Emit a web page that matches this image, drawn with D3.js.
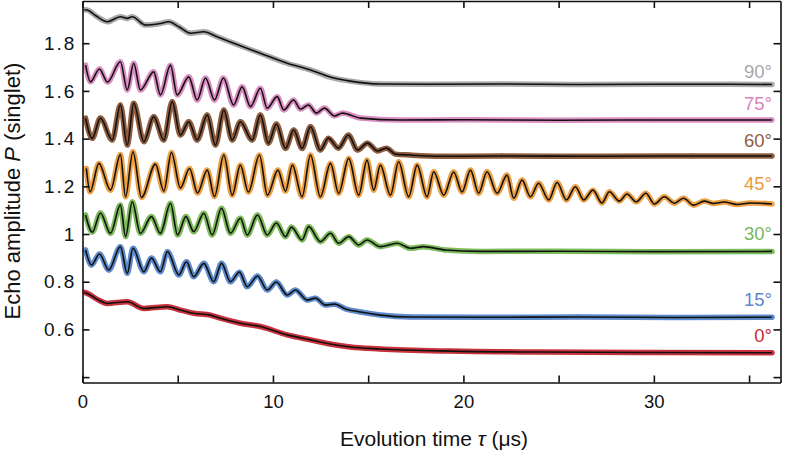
<!DOCTYPE html>
<html><head><meta charset="utf-8">
<script src="https://cdn.jsdelivr.net/npm/d3@7"></script>
<style>
body{margin:0;background:#fff}
text{font-family:"Liberation Sans",Arial,Helvetica,sans-serif}
</style>
</head><body>
<svg id="chart" width="788" height="452"></svg>
<script>
// ---------- data (time in µs, echo amplitude) ----------
const angleLabels = ["90°","75°","60°","45°","30°","15°","0°"];

const s90 = [[0.1,1.94],[0.25,1.939],[0.7,1.915],[1.3,1.89],[1.99,1.911],[2.35,1.904],[2.61,1.911],[3.31,1.876],[4.09,1.883],[4.53,1.89],[5.06,1.869],[5.67,1.842],[6.37,1.848],[7.07,1.827],[7.94,1.8],[9.34,1.758],[10.75,1.716],[11.97,1.688],[13.0,1.658],[14.07,1.641],[15.6,1.629],[18,1.628],[22,1.629],[26,1.627],[30,1.628],[34,1.628],[36.2,1.627]];

const s75 = [[0.16,1.708],[0.42,1.638],[0.89,1.692],[1.31,1.637],[1.99,1.722],[2.35,1.604],[2.69,1.716],[3.04,1.604],[3.74,1.68],[4.09,1.583],[4.62,1.708],[4.97,1.583],[5.58,1.659],[6.02,1.562],[6.46,1.654],[6.93,1.562],[7.4,1.654],[7.93,1.541],[8.38,1.617],[8.82,1.534],[9.34,1.611],[9.7,1.527],[10.22,1.576],[10.57,1.52],[11.08,1.562],[11.44,1.524],[11.86,1.541],[12.28,1.507],[12.7,1.528],[13.23,1.495],[13.65,1.507],[14.6,1.486],[16.7,1.478],[20,1.479],[25,1.477],[30,1.478],[36.2,1.478]];

const s60 = [[0.16,1.486],[0.51,1.401],[0.94,1.486],[1.56,1.394],[1.99,1.541],[2.35,1.373],[2.69,1.548],[3.22,1.387],[3.74,1.492],[4.27,1.394],[4.71,1.555],[5.14,1.415],[5.58,1.471],[6.02,1.394],[6.55,1.499],[6.98,1.373],[7.42,1.52],[7.86,1.394],[8.29,1.471],[8.91,1.394],[9.34,1.499],[9.76,1.381],[10.18,1.461],[10.66,1.359],[11.09,1.436],[11.53,1.359],[11.97,1.45],[12.49,1.352],[12.91,1.402],[13.44,1.36],[13.96,1.415],[14.44,1.352],[14.96,1.381],[15.49,1.348],[15.96,1.36],[16.43,1.335],[17.2,1.331],[18.8,1.326],[22,1.327],[27,1.326],[32,1.327],[36.2,1.327]];

const s45 = [[0.2,1.275],[0.4,1.177],[0.86,1.296],[1.47,1.184],[1.99,1.333],[2.26,1.156],[2.65,1.345],[3.1,1.153],[3.83,1.293],[4.27,1.18],[4.67,1.342],[5.14,1.193],[5.62,1.275],[6.04,1.172],[6.55,1.268],[6.93,1.157],[7.42,1.331],[7.86,1.163],[8.29,1.289],[8.71,1.176],[9.29,1.331],[9.71,1.163],[10.26,1.268],[10.66,1.18],[11.02,1.289],[11.53,1.156],[11.97,1.331],[12.49,1.156],[13.02,1.296],[13.45,1.171],[13.98,1.317],[14.5,1.163],[14.94,1.31],[15.29,1.184],[15.64,1.289],[16.17,1.163],[16.6,1.303],[17.13,1.156],[17.57,1.289],[18.09,1.156],[18.44,1.261],[18.97,1.163],[19.49,1.26],[19.93,1.176],[20.37,1.268],[20.8,1.171],[21.24,1.261],[21.77,1.171],[22.29,1.247],[22.64,1.15],[23.08,1.226],[23.52,1.156],[23.95,1.213],[24.48,1.143],[24.92,1.216],[25.41,1.143],[25.88,1.198],[26.32,1.143],[26.8,1.184],[27.28,1.13],[27.66,1.177],[28.19,1.138],[28.59,1.168],[29.08,1.135],[29.58,1.171],[30.03,1.126],[30.55,1.156],[31.08,1.129],[31.56,1.15],[32.09,1.121],[32.65,1.138],[33.12,1.128],[33.7,1.134],[34.37,1.124],[35.07,1.13],[36.2,1.126]];

const s30 = [[0.16,1.08],[0.52,1.008],[0.94,1.088],[1.47,1.003],[1.99,1.122],[2.26,0.989],[2.61,1.135],[3.04,1.003],[3.62,1.073],[4.09,1.003],[4.62,1.129],[4.99,0.996],[5.43,1.073],[5.84,1.01],[6.37,1.087],[6.81,0.996],[7.3,1.108],[7.77,1.003],[8.29,1.066],[8.65,0.996],[9.19,1.08],[9.7,0.996],[10.18,1.046],[10.66,0.989],[10.97,1.029],[11.53,0.975],[11.88,1.031],[12.49,0.968],[13.02,1.003],[13.45,0.961],[13.98,0.989],[14.5,0.954],[14.94,0.975],[15.64,0.947],[16.52,0.961],[17.22,0.94],[17.9,0.947],[19.05,0.933],[20.9,0.927],[25,0.928],[30,0.926],[36.2,0.927]];

const s15 = [[0.16,0.933],[0.47,0.87],[0.89,0.916],[1.38,0.849],[1.99,0.947],[2.35,0.835],[2.65,0.94],[3.22,0.842],[3.62,0.899],[4.09,0.842],[4.46,0.926],[5.06,0.828],[5.46,0.884],[5.84,0.821],[6.37,0.877],[6.89,0.8],[7.3,0.877],[7.77,0.8],[8.24,0.84],[8.65,0.779],[9.19,0.824],[9.7,0.765],[10.18,0.799],[10.75,0.744],[11.18,0.765],[11.8,0.723],[12.23,0.731],[12.76,0.702],[13.23,0.706],[13.81,0.686],[14.6,0.673],[15.64,0.66],[17.22,0.652],[21,0.651],[26,0.652],[31,0.65],[36.2,0.651]];

const s0 = [[0.1,0.755],[0.25,0.751],[0.8,0.725],[1.3,0.709],[2.35,0.716],[3.22,0.688],[4.45,0.695],[5.14,0.681],[5.84,0.668],[6.72,0.66],[7.24,0.647],[8.29,0.626],[9.34,0.612],[10.75,0.577],[11.97,0.556],[13.0,0.539],[14.07,0.526],[15.6,0.518],[19.3,0.509],[24,0.505],[30,0.503],[36.2,0.502]];

const seriesList = [s90, s75, s60, s45, s30, s15, s0];

const xTickValues = [0,5,10,15,20,25,30,35];
const xTickLabels = ["0","","10","","20","","30",""];
const yTickValues = [0.4,0.6,0.8,1.0,1.2,1.4,1.6,1.8];
const yTickLabels = ["","0.6","0.8","1","1.2","1.4","1.6","1.8"];

// ---------- styles ----------
const bandColors  = ["#a9a9a9","#db8ec2","#8e5c3e","#eda044","#7dbb5c","#5d8bcc","#c8323c"];
const labelColors = ["#a8a8a8","#d784b9","#8f5d3e","#ea9a3e","#79b55b","#5b88c6","#c42b34"];
const labelOffsets = [6.3, 10, 9.5, 14, 11.3, 11.3, 11.2];

const svg = d3.select("#chart");
const W = 788, H = 452;
const L = 82.5, R = 780.5, T = 1, B = 382.5;

const x = d3.scaleLinear().domain([0, 36.65]).range([L, R]);
const y = d3.scaleLinear().domain([0.3774, 1.977]).range([B, T]);

svg.append("rect").attr("width", W).attr("height", H).attr("fill", "#fff");

svg.append("defs").append("clipPath").attr("id","clip")
  .append("rect").attr("x", L).attr("y", T).attr("width", R-L).attr("height", B-T);

const line = d3.line().x(d => x(d[0])).y(d => y(d[1])).curve(d3.curveMonotoneX);

const plot = svg.append("g").attr("clip-path","url(#clip)");
seriesList.forEach((s, i) => {
  plot.append("path").attr("d", line(s)).attr("fill","none")
    .attr("stroke", bandColors[i]).attr("stroke-width", 5.5)
    .attr("stroke-linecap","round").attr("stroke-linejoin","round");
  plot.selectAll(null).data(s).enter().append("circle")
    .attr("cx", d => x(d[0])).attr("cy", d => y(d[1])).attr("r", 2.4)
    .attr("fill", bandColors[i]);
});
seriesList.forEach((s, i) => {
  plot.append("path").attr("d", line(s)).attr("fill","none")
    .attr("stroke", "#111").attr("stroke-width", 1.6);
});

// axes
const axW = 1.6;
const gx = svg.append("g").attr("transform", `translate(0,${B})`)
  .call(d3.axisBottom(x).tickValues(xTickValues).tickSizeInner(-7).tickSizeOuter(0).tickPadding(12.5)
    .tickFormat((d,i) => xTickLabels[i]));
const gxt = svg.append("g").attr("transform", `translate(0,${T})`)
  .call(d3.axisTop(x).tickValues(xTickValues).tickSizeInner(-7).tickSizeOuter(0).tickFormat(""));
const gy = svg.append("g").attr("transform", `translate(${L},0)`)
  .call(d3.axisLeft(y).tickValues(yTickValues).tickSizeInner(-7).tickSizeOuter(0).tickPadding(8)
    .tickFormat((d,i) => yTickLabels[i]));
const gyr = svg.append("g").attr("transform", `translate(${R},0)`)
  .call(d3.axisRight(y).tickValues(yTickValues).tickSizeInner(-7).tickSizeOuter(0).tickFormat(""));

[gx,gxt,gy,gyr].forEach(g => {
  g.select(".domain").attr("stroke","#111").attr("stroke-width", axW);
  g.selectAll(".tick line").attr("stroke","#111").attr("stroke-width", axW);
  g.selectAll("text").attr("fill","#111").attr("font-family",'"Liberation Sans",Arial,sans-serif');
});
gx.selectAll("text").attr("font-size", 18.5);
gy.selectAll("text").attr("font-size", 19).attr("letter-spacing", "2px").attr("dx", "0.1em");

// axis titles
svg.append("text").attr("x", 434).attr("y", 446).attr("text-anchor","middle")
  .attr("font-size", 21).attr("fill","#111")
  .html('Evolution time <tspan font-style="italic">τ</tspan> (μs)');
svg.append("text").attr("transform", "translate(20,191) rotate(-90)").attr("text-anchor","middle")
  .attr("font-size", 22).attr("fill","#111")
  .html('Echo amplitude <tspan font-style="italic">P</tspan> (singlet)');

// angle labels
seriesList.forEach((s, i) => {
  const last = s[s.length-1];
  svg.append("text").attr("x", 772).attr("y", y(last[1]) - labelOffsets[i])
    .attr("text-anchor","end").attr("font-size", 18.5).attr("fill", labelColors[i])
    .text(angleLabels[i]);
});
</script>
</body></html>
